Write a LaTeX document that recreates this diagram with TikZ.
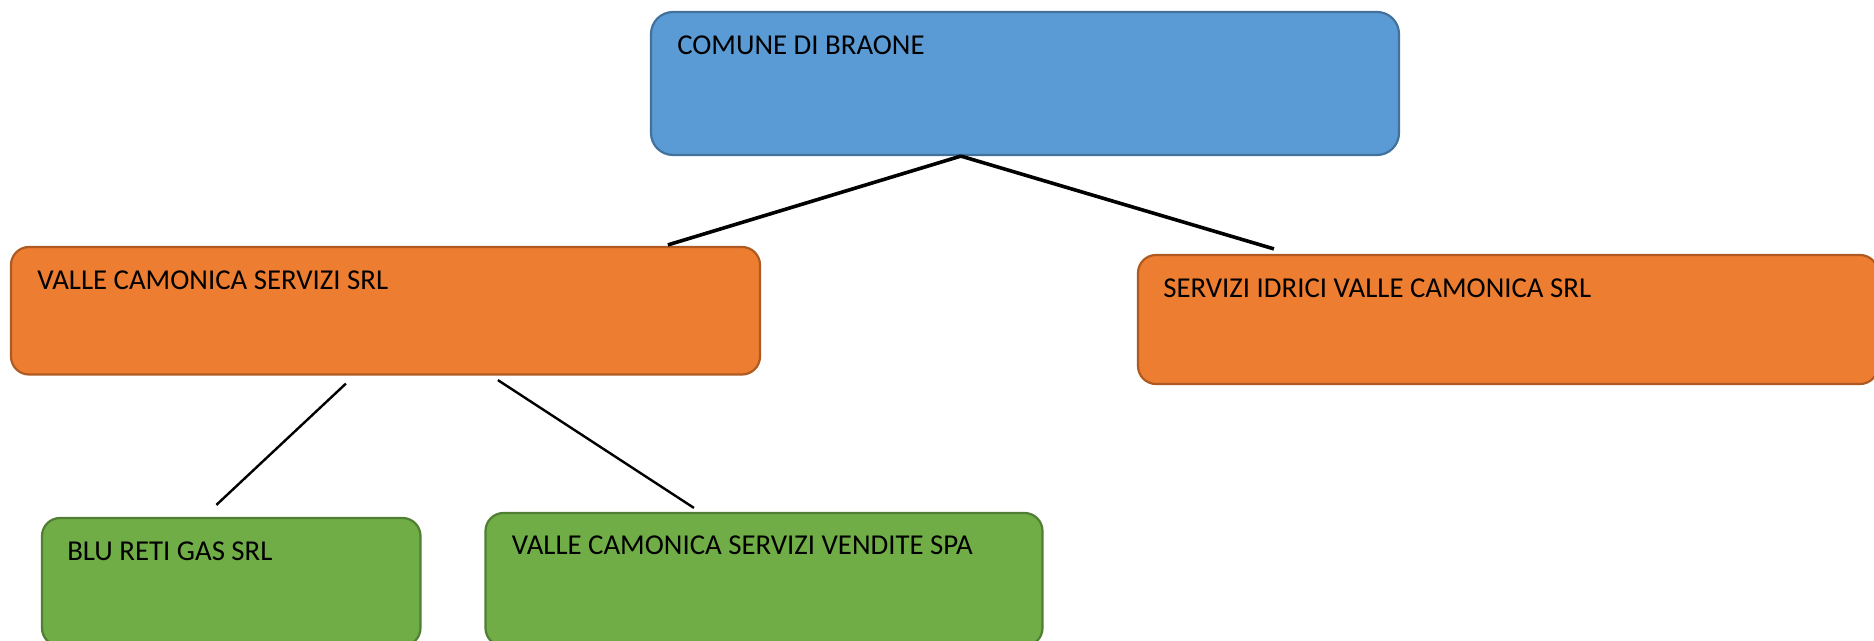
\documentclass[tikz,border=0pt]{standalone}
\usepackage{fontspec}
\setmainfont{Carlito}
\definecolor{bluefill}{HTML}{5B9BD5}
\definecolor{blueedge}{HTML}{41719C}
\definecolor{orangefill}{HTML}{ED7D31}
\definecolor{orangeedge}{HTML}{AE5A21}
\definecolor{greenfill}{HTML}{70AD47}
\definecolor{greenedge}{HTML}{507E32}

\begin{document}
\begin{tikzpicture}[x=0.5pt,y=-0.5pt,
  box/.style={rectangle,rounded corners=9pt,line width=1.1pt,inner sep=0pt},
  bluebox/.style={box,rounded corners=11pt,fill=bluefill,draw=blueedge},
  orangebox/.style={box,fill=orangefill,draw=orangeedge},
  greenbox/.style={box,fill=greenfill,draw=greenedge},
  txt/.style={anchor=base west,inner sep=0pt,font=\fontsize{14.4pt}{17pt}\selectfont},
  thick link/.style={line width=1.8pt},
  thin link/.style={line width=1.2pt}]
  \useasboundingbox (0,0) rectangle (1874,641);

  % boxes
  \node[bluebox,minimum width=374pt,minimum height=71.5pt] (comune) at (1025,83.5) {};
  \node[orangebox,minimum width=374.5pt,minimum height=63.75pt] (vcs) at (385.5,310.75) {};
  \node[orangebox,minimum width=370pt,minimum height=64.5pt] (sii) at (1508,319.5) {};
  \node[greenbox,minimum width=189.25pt,minimum height=64pt] (blu) at (231.25,582) {};
  \node[greenbox,minimum width=278.5pt,minimum height=66.5pt] (vcsv) at (764,579.5) {};

  % texts
  \node[txt] (comune-t) at ([shift={(27,44)}]comune.north west) {COMUNE DI BRAONE};
  \node[txt] (vcs-t) at ([shift={(27,44)}]vcs.north west) {VALLE CAMONICA SERVIZI SRL};
  \node[txt] (sii-t) at ([shift={(26,44)}]sii.north west) {SERVIZI IDRICI VALLE CAMONICA SRL};
  \node[txt] (blu-t) at ([shift={(26,44)}]blu.north west) {BLU RETI GAS SRL};
  \node[txt] (vcsv-t) at ([shift={(27,43)}]vcsv.north west) {VALLE CAMONICA SERVIZI VENDITE SPA};

  % link ends
  \coordinate (apex) at ([shift={(311,0)}]comune.south west);
  \coordinate (vcs-in) at ([shift={(658,-1)}]vcs.north west);
  \coordinate (sii-in) at ([shift={(137,-5)}]sii.north west);
  \coordinate (vcs-out1) at ([shift={(336,8)}]vcs.south west);
  \coordinate (vcs-out2) at ([shift={(488,4.5)}]vcs.south west);
  \coordinate (blu-in) at ([shift={(175.5,-12)}]blu.north west);
  \coordinate (vcsv-in) at ([shift={(209.5,-4)}]vcsv.north west);

  \draw[thick link] (apex) -- (vcs-in);
  \draw[thick link] (apex) -- (sii-in);
  \draw[thin link] (vcs-out1) -- (blu-in);
  \draw[thin link] (vcs-out2) -- (vcsv-in);
\end{tikzpicture}
\end{document}
